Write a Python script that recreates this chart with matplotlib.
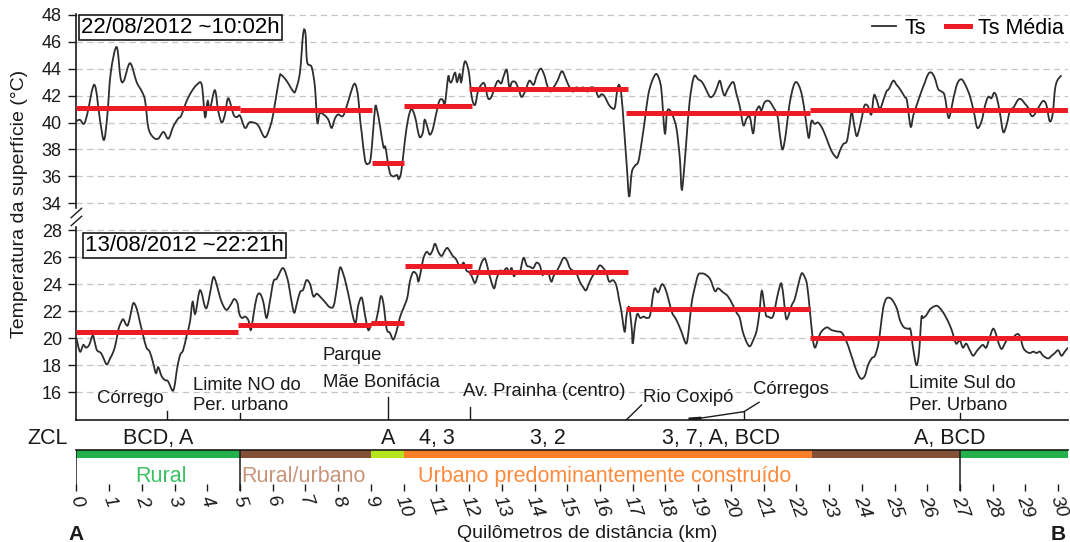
import matplotlib
matplotlib.use("Agg")
import matplotlib.pyplot as plt
from matplotlib.lines import Line2D
from matplotlib.path import Path
from matplotlib.patches import PathPatch

plt.rcParams['font.family'] = ['Liberation Sans', 'DejaVu Sans']

# ---------------------------------------------------------------
# Perfil de temperatura da superfície (Ts) ao longo do transecto A-B
# ---------------------------------------------------------------

# 22/08/2012 ~10:02h  (km, °C)
km_dia = [0.0, 0.11, 0.23, 0.33, 0.55, 0.72, 0.84, 0.94, 1.05, 1.23, 1.35, 1.45, 1.64, 1.84,
          2.0, 2.1, 2.2, 2.35, 2.5, 2.66, 2.81, 2.96, 3.11, 3.2, 3.37, 3.52, 3.68, 3.83, 3.93,
          4.01, 4.08, 4.23, 4.33, 4.44, 4.54, 4.64, 4.8, 4.9, 5.0, 5.15, 5.28, 5.4, 5.55, 5.76,
          5.92, 6.02, 6.2, 6.27, 6.42, 6.63, 6.7, 6.83, 6.93, 7.0, 7.05, 7.19, 7.29, 7.36, 7.44,
          7.6, 7.7, 7.8, 7.9, 8.0, 8.15, 8.31, 8.45, 8.53, 8.61, 8.67, 8.72, 8.82, 8.92, 9.0,
          9.12, 9.17, 9.28, 9.38, 9.44, 9.5, 9.58, 9.68, 9.8, 9.85, 9.93, 10.04, 10.14, 10.24,
          10.35, 10.45, 10.51, 10.59, 10.64, 10.72, 10.8, 10.89, 10.98, 11.09, 11.19, 11.26,
          11.36, 11.4, 11.46, 11.57, 11.63, 11.71, 11.76, 11.85, 11.92, 12.0, 12.08, 12.18,
          12.28, 12.41, 12.48, 12.58, 12.68, 12.78, 12.88, 12.98, 13.05, 13.15, 13.23, 13.31,
          13.41, 13.51, 13.6, 13.71, 13.84, 13.97, 14.07, 14.19, 14.3, 14.38, 14.48, 14.58,
          14.7, 14.83, 14.93, 15.03, 15.17, 15.27, 15.39, 15.49, 15.62, 15.72, 15.85, 15.95,
          16.05, 16.15, 16.25, 16.35, 16.45, 16.52, 16.58, 16.65, 16.73, 16.82, 16.89, 16.97,
          17.07, 17.17, 17.27, 17.37, 17.47, 17.58, 17.71, 17.81, 17.88, 17.98, 18.05, 18.14,
          18.24, 18.34, 18.44, 18.49, 18.54, 18.64, 18.74, 18.87, 19.0, 19.12, 19.25, 19.36,
          19.46, 19.56, 19.66, 19.74, 19.81, 19.91, 20.07, 20.17, 20.27, 20.38, 20.48, 20.58,
          20.68, 20.76, 20.86, 20.93, 21.03, 21.16, 21.28, 21.42, 21.5, 21.58, 21.68, 21.78,
          21.9, 22.0, 22.13, 22.23, 22.34, 22.39, 22.46, 22.56, 22.66, 22.76, 22.86, 22.97,
          23.07, 23.18, 23.25, 23.33, 23.43, 23.54, 23.62, 23.69, 23.76, 23.84, 23.92, 24.02,
          24.09, 24.19, 24.29, 24.37, 24.45, 24.55, 24.65, 24.75, 24.83, 24.96, 25.06, 25.16,
          25.31, 25.38, 25.49, 25.57, 25.65, 25.72, 25.82, 25.93, 26.03, 26.13, 26.23, 26.33,
          26.43, 26.53, 26.64, 26.71, 26.79, 26.92, 27.05, 27.18, 27.31, 27.43, 27.53, 27.66,
          27.76, 27.86, 27.96, 28.04, 28.12, 28.22, 28.32, 28.42, 28.53, 28.63, 28.78, 28.88,
          28.98, 29.08, 29.18, 29.28, 29.42, 29.54, 29.64, 29.74, 29.83, 29.9, 29.97, 30.1]
ts_dia = [40.1, 40.2, 39.9, 40.6, 42.8, 40.2, 38.7, 40.4, 43.7, 45.6, 43.3, 43.1, 44.4, 43.0,
          42.3, 41.6, 39.6, 38.9, 38.8, 39.3, 38.8, 39.7, 40.3, 40.5, 41.6, 42.3, 42.8, 42.8, 40.4,
          41.6, 41.0, 42.4, 40.9, 40.0, 40.6, 41.8, 40.6, 40.4, 40.5, 39.6, 40.0, 40.0, 39.8, 38.9,
          39.7, 40.7, 43.3, 43.5, 43.1, 42.3, 42.4, 43.7, 46.6, 46.6, 44.5, 44.1, 42.6, 40.0, 40.7,
          40.5, 40.2, 39.6, 40.3, 40.6, 40.5, 41.6, 42.7, 42.8, 41.9, 40.2, 39.2, 37.2, 36.95, 37.5,
          40.9, 41.1, 39.7, 38.2, 38.2, 37.3, 36.25, 36.0, 36.1, 35.8, 36.4, 38.7, 40.3, 41.0,
          40.4, 39.2, 38.9, 39.3, 40.2, 39.7, 39.1, 39.5, 40.5, 41.6, 41.7, 41.4,
          43.4, 43.1, 43.0, 43.7, 43.0, 43.6, 43.0, 44.4, 44.4, 43.6, 41.9, 41.3,
          42.4, 42.9, 42.8, 41.8, 41.9, 42.6, 43.1, 42.9, 43.4, 43.9, 42.6, 43.0,
          43.0, 42.5, 41.9, 42.3, 43.1, 42.8, 43.5, 44.0, 43.5, 42.8, 42.3, 42.6,
          43.1, 43.8, 43.4, 42.8, 42.3, 42.6, 42.5, 42.6, 42.3, 42.6, 42.5, 41.9,
          42.1, 41.9, 41.4, 41.1, 41.1, 42.3, 42.8, 42.1, 39.7, 36.7, 34.5, 36.3,
          36.8, 37.1, 38.5, 40.2, 42.0, 43.0, 43.6, 43.2, 42.3, 39.2, 40.8, 40.9,
          40.4, 39.5, 37.3, 35.1, 35.7, 38.7, 41.6, 43.4, 43.2, 43.0, 42.4, 41.9,
          42.0, 42.5, 43.1, 42.4, 42.0, 42.5, 43.0, 42.1, 41.2, 39.8, 40.3, 40.4,
          39.2, 40.7, 41.2, 40.9, 41.5, 41.6, 41.2, 40.5, 39.0, 38.0, 39.2, 41.2,
          42.6, 43.0, 42.4, 41.2, 39.3, 38.9, 40.1, 39.9, 40.0, 39.7, 39.2, 38.5,
          37.9, 37.5, 37.4, 37.9, 38.4, 38.6, 39.7, 40.8, 39.9, 39.0, 39.5, 40.6,
          41.3, 41.2, 40.6, 42.0, 41.7, 41.0, 41.6, 42.3, 42.5, 43.1, 42.8, 42.5,
          41.9, 41.6, 39.7, 40.5, 41.1, 41.6, 42.3, 43.0, 43.6, 43.7, 43.3, 42.5,
          42.3, 42.0, 40.4, 40.7, 41.7, 42.9, 43.2, 42.7, 41.9, 40.7, 39.6, 40.1,
          41.2, 41.9, 41.8, 42.2, 41.9, 40.7, 39.3, 39.8, 40.9, 41.1, 41.7, 41.7,
          41.4, 41.1, 40.5, 40.6, 41.2, 41.6, 41.3, 40.1, 40.6, 42.4, 43.1, 43.5]

# 13/08/2012 ~22:21h  (km, °C)
km_noite = [0.0, 0.11, 0.21, 0.29, 0.39, 0.5, 0.57, 0.63, 0.75, 0.83, 0.93, 1.03, 1.13, 1.21,
            1.28, 1.35, 1.43, 1.52, 1.58, 1.66, 1.74, 1.84, 1.94, 2.04, 2.14, 2.24, 2.34, 2.43,
            2.5, 2.6, 2.7, 2.8, 2.94, 3.01, 3.06, 3.16, 3.26, 3.37, 3.47, 3.55, 3.63, 3.75, 3.82,
            3.92, 3.99, 4.08, 4.18, 4.26, 4.37, 4.47, 4.59, 4.72, 4.82, 4.92, 4.98, 5.06, 5.16,
            5.26, 5.33, 5.41, 5.51, 5.61, 5.71, 5.81, 5.91, 6.02, 6.12, 6.22, 6.3, 6.37, 6.47,
            6.54, 6.65, 6.73, 6.83, 6.93, 7.03, 7.14, 7.24, 7.34, 7.44, 7.59, 7.74, 7.86, 7.95,
            8.05, 8.15, 8.25, 8.35, 8.46, 8.54, 8.61, 8.72, 8.82, 8.92, 9.02, 9.12, 9.22, 9.3,
            9.38, 9.48, 9.58, 9.68, 9.78, 9.88, 9.99, 10.11, 10.19, 10.29, 10.4, 10.45, 10.52,
            10.6, 10.7, 10.8, 10.88, 10.96, 11.06, 11.16, 11.26, 11.33, 11.4, 11.5, 11.59, 11.67,
            11.74, 11.82, 11.87, 11.92, 12.0, 12.08, 12.18, 12.28, 12.38, 12.48, 12.55, 12.63,
            12.76, 12.84, 12.94, 13.04, 13.15, 13.23, 13.3, 13.37, 13.45, 13.55, 13.66, 13.76,
            13.86, 13.96, 14.06, 14.16, 14.24, 14.31, 14.41, 14.51, 14.58, 14.66, 14.77, 14.88,
            14.98, 15.08, 15.18, 15.28, 15.38, 15.48, 15.57, 15.67, 15.77, 15.89, 15.99, 16.1,
            16.2, 16.28, 16.4, 16.5, 16.58, 16.66, 16.71, 16.76, 16.81, 16.89, 16.97, 17.0,
            17.07, 17.14, 17.23, 17.33, 17.43, 17.53, 17.62, 17.68, 17.78, 17.89, 17.99, 18.09,
            18.2, 18.3, 18.4, 18.5, 18.63, 18.7, 18.8, 18.9, 19.0, 19.1, 19.2, 19.36, 19.51,
            19.61, 19.76, 19.91, 20.07, 20.17, 20.27, 20.36, 20.48, 20.58, 20.68, 20.78, 20.86,
            20.94, 21.01, 21.07, 21.14, 21.24, 21.31, 21.4, 21.5, 21.55, 21.62, 21.68, 21.75,
            21.85, 21.95, 22.05, 22.16, 22.26, 22.33, 22.41, 22.5, 22.57, 22.67, 22.77, 22.93,
            23.08, 23.24, 23.39, 23.54, 23.64, 23.75, 23.85, 23.97, 24.09, 24.19, 24.3, 24.4,
            24.5, 24.57, 24.65, 24.74, 24.84, 24.94, 25.07, 25.17, 25.29, 25.42, 25.49, 25.57,
            25.67, 25.75, 25.82, 25.87, 25.97, 26.07, 26.17, 26.3, 26.43, 26.56, 26.68, 26.76,
            26.88, 26.99, 27.09, 27.19, 27.3, 27.4, 27.5, 27.6, 27.7, 27.8, 27.9, 28.01, 28.1,
            28.17, 28.27, 28.37, 28.47, 28.57, 28.68, 28.78, 28.85, 28.93, 29.03, 29.14, 29.24,
            29.34, 29.44, 29.54, 29.69, 29.8, 29.9, 30.0, 30.1, 30.2, 30.3]
ts_noite = [20.0, 19.0, 19.5, 19.3, 19.5, 20.2, 19.6, 19.1, 18.9, 18.5, 18.05, 18.5, 19.0, 19.7,
            20.6, 21.1, 21.4, 21.0, 21.0, 21.8, 22.6, 22.2, 21.2, 20.2, 19.3, 19.0, 18.2, 17.4,
            17.85, 17.2, 16.9, 16.8, 16.1, 16.6, 17.5, 18.7, 19.1, 20.2, 21.2, 22.7, 21.8, 23.4, 23.4,
            22.4, 22.3, 23.3, 24.5, 24.2, 23.2, 22.5, 22.1, 22.5, 22.9, 22.6, 21.8, 21.5, 21.6,
            21.3, 20.6, 21.7, 23.05, 23.3, 22.7, 21.5, 22.7, 24.2, 24.4, 24.9, 25.2, 25.0, 24.2,
            23.2, 21.9, 22.5, 23.4, 23.6, 24.3, 24.0, 23.1, 23.3, 23.1, 22.7, 22.3, 22.4, 23.6,
            25.2, 24.8, 23.9, 22.8, 21.5, 21.2, 22.4, 23.0, 21.7, 20.6, 21.1, 21.0, 22.0, 23.1,
            22.6, 20.7, 20.4, 19.9, 20.5, 21.5, 22.2, 23.0, 24.2, 24.9, 24.7, 24.2, 24.9,
            25.9, 26.4, 26.2, 26.5, 27.0, 26.4, 26.1, 26.5, 26.7, 26.5, 26.1, 25.9, 25.5,
            25.2, 25.6, 25.4, 25.0, 24.9, 24.6, 24.1, 24.8, 25.6, 25.9, 25.4, 24.6,
            23.7, 24.4, 25.0, 24.95, 25.2, 24.9, 25.2, 24.6, 24.95, 24.9, 25.95, 25.4,
            25.3, 25.2, 25.6, 25.4, 24.7, 24.9, 24.9, 24.2, 24.6, 24.9, 25.4, 25.95,
            25.8, 25.2, 25.0, 24.8, 24.2, 23.8, 23.55, 24.1, 24.6, 25.0, 25.4, 25.2,
            24.8, 24.2, 24.3, 23.9, 22.9, 21.9, 21.0, 20.5, 21.7, 22.3, 20.7, 19.6,
            21.0, 21.8, 21.5, 21.6, 21.5, 21.7, 23.2, 23.7, 23.4, 24.0, 23.7, 22.9,
            21.9, 21.5, 21.0, 20.4, 19.6, 20.4, 22.6, 23.8, 24.7, 24.8, 24.75, 24.4, 23.5,
            23.7, 23.4, 23.1, 22.4, 21.9, 21.5, 20.5, 19.7, 19.4, 19.85, 20.5, 21.7,
            23.5, 22.6, 21.7, 21.6, 21.5, 21.8, 22.9, 23.9, 24.0, 22.8, 21.5, 21.6,
            22.4, 22.9, 23.9, 24.8, 24.5, 23.9, 22.1, 20.0, 19.3, 20.0, 20.5, 20.8,
            20.6, 20.5, 20.4, 19.7, 19.0, 18.2, 17.5, 17.0, 17.2, 18.0, 18.5, 18.7,
            19.5, 20.7, 22.2, 22.9, 23.0, 22.8, 22.2, 21.3, 20.8, 20.7, 20.6, 19.2,
            18.0, 19.0, 21.5, 21.5, 21.7, 22.1, 22.3, 22.4, 22.1, 21.6, 21.0, 20.5,
            19.6, 19.85, 19.3, 19.6, 19.1, 18.7, 19.0, 19.3, 19.5, 19.3, 20.0, 20.7, 20.3,
            19.7, 19.2, 19.6, 20.0, 19.85, 20.2, 20.3, 20.0, 19.3, 19.0, 18.9, 19.0,
            18.9, 19.0, 18.7, 18.5, 18.7, 18.9, 19.1, 18.7, 19.0, 19.3]

# Ts média por trecho (início km, fim km, °C)
media_dia_ini = [0.0, 5.0, 9.03, 10.02, 12.0, 16.8, 22.43]
media_dia_fim = [5.0, 9.03, 10.02, 12.08, 16.86, 22.43, 30.3]
media_dia = [41.1, 40.9, 37.0, 41.2, 42.5, 40.7, 40.9]

media_noite_ini = [0.0, 4.95, 9.0, 10.04, 12.0, 16.8, 22.41]
media_noite_fim = [4.95, 9.0, 10.0, 12.08, 16.86, 22.41, 30.3]
media_noite = [20.45, 21.0, 21.15, 25.35, 24.9, 22.2, 20.0]

# Zonas climáticas locais (ZCL) ao longo do percurso
zcl_rotulos = ["BCD, A", "A", "4, 3", "3, 2", "3, 7, A, BCD", "A, BCD"]
zcl_km = [2.5, 9.53, 11.0, 14.4, 19.7, 26.7]

# Uso do solo
zona_ini = [0.0, 5.0, 9.0, 10.0, 22.47, 27.0]
zona_fim = [5.0, 9.0, 10.0, 22.47, 27.0, 30.3]
zona_cor = ["#22b14c", "#845036", "#b5e61d", "#ff7f27", "#845036", "#22b14c"]
zona_nomes = ["Rural", "Rural/urbano", "Urbano predominantemente construído"]
zona_nomes_km = [2.6, 6.93, 16.15]
zona_nomes_cor = ["#3cc063", "#c8957a", "#ff8a3d"]
limites_zona = [0, 5, 27]

# Pontos de referência
ref_textos = ["Córrego", "Limite NO do", "Per. urbano", "Parque", "Mãe Bonifácia",
              "Av. Prainha (centro)", "Rio Coxipó", "Córregos", "Limite Sul do", "Per. Urbano"]

km_ticks = list(range(0, 31))
yt_sup = [34, 36, 38, 40, 42, 44, 46, 48]
yt_inf = [16, 18, 20, 22, 24, 26, 28]
GAP = 4  # deslocamento do trecho superior (eixo quebrado entre 28 e 34)

# ---------------------------------------------------------------
W, H = 1070, 542
fig = plt.figure(figsize=(W / 100, H / 100), dpi=100)


def fx(px):
    return px / W


def fy(py):
    return 1 - py / H


def curva_suave(xs, ys):
    """Caminho de Bézier cúbico que passa pelos pontos (linha suavizada)."""
    n = len(xs)
    verts = [(xs[0], ys[0])]
    codes = [Path.MOVETO]
    for i in range(n - 1):
        x0, y0 = xs[max(i - 1, 0)], ys[max(i - 1, 0)]
        x1, y1 = xs[i], ys[i]
        x2, y2 = xs[i + 1], ys[i + 1]
        x3, y3 = xs[min(i + 2, n - 1)], ys[min(i + 2, n - 1)]
        c1 = (x1 + (x2 - x0) / 6.0, y1 + (y2 - y0) / 6.0)
        c2 = (x2 - (x3 - x1) / 6.0, y2 - (y3 - y1) / 6.0)
        verts += [c1, c2, (x2, y2)]
        codes += [Path.CURVE4] * 3
    return Path(verts, codes)


X0, X1 = 76.4, 1068.0
XMAX = 30.3
Y_TOP_PX, Y_BOT_PX = 14.0, 420.0
YMIN, YMAX = 13.93, 44.05

ax = fig.add_axes([fx(X0), fy(Y_BOT_PX), (X1 - X0) / W, (Y_BOT_PX - Y_TOP_PX) / H])
ax.set_xlim(0, XMAX)
ax.set_ylim(YMIN, YMAX)

ypos = yt_inf + [v - GAP for v in yt_sup]
ax.set_yticks(ypos)
ax.set_yticklabels([str(v) for v in yt_inf + yt_sup])
ax.tick_params(axis='y', direction='out', length=5.5, width=1.0, pad=5, labelsize=13,
               colors='#1a1a1a')
ax.tick_params(axis='x', bottom=False, labelbottom=False)
ax.yaxis.grid(True, color='#c4c4c4', lw=0.9, ls=(0, (5, 3.5)))
ax.set_axisbelow(True)
for s in ('top', 'right', 'left'):
    ax.spines[s].set_visible(False)
ax.spines['bottom'].set_linewidth(1.2)
ax.spines['bottom'].set_color('#1a1a1a')


# eixo vertical com quebra
def v_of(py):
    return 44 - (py - 14.7) / 13.48


ax.plot([0, 0], [v_of(208), YMAX], color='#1a1a1a', lw=1.2, clip_on=False)
ax.plot([0, 0], [YMIN, v_of(227)], color='#1a1a1a', lw=1.2, clip_on=False)
for y0 in (v_of(221), v_of(213)):
    ax.plot([-0.16, 0.16], [y0 - 0.35, y0 + 0.35], color='#1a1a1a', lw=1.0, clip_on=False)

# séries
ax.add_patch(PathPatch(curva_suave(km_dia, [v - GAP for v in ts_dia]), fill=False,
                       edgecolor='#2e2e2e', lw=1.3, zorder=3))
ax.add_patch(PathPatch(curva_suave(km_noite, ts_noite), fill=False,
                       edgecolor='#2e2e2e', lw=1.3, zorder=3))
ax.hlines([v - GAP for v in media_dia], media_dia_ini, media_dia_fim,
          color='#ed1c24', lw=3.6, zorder=4)
ax.hlines(media_noite, media_noite_ini, media_noite_fim,
          color='#ed1c24', lw=3.6, zorder=4)

# caixas de data
box = dict(facecolor='white', edgecolor='#1a1a1a', boxstyle='square,pad=0.1', lw=1.2)
ax.text(0.15, v_of(16.8), "22/08/2012 ~10:02h", fontsize=16, va='top', ha='left',
        bbox=box, zorder=6)
ax.text(0.26, v_of(235), "13/08/2012 ~22:21h", fontsize=16, va='top', ha='left',
        bbox=box, zorder=6)

# pontos de referência
tc = '#1a1a1a'
fs_ref = 13.3
ref_pos = [(0.62, 403.3), (3.56, 390), (3.56, 410), (7.53, 360), (7.53, 386.7),
           (11.82, 396), (17.3, 401.6), (20.68, 394.4), (25.45, 388.3), (25.45, 410)]
for t, (xk, py) in zip(ref_textos, ref_pos):
    ax.text(xk, v_of(py), t, fontsize=fs_ref, ha='left', va='baseline', color=tc)

marcas = [(2.77, 410.7), (5.0, 412.7), (9.53, 396.7), (12.03, 406.7), (20.4, 411.7),
          (27.0, 412.7)]
for xk, py in marcas:
    ax.plot([xk, xk], [YMIN, v_of(py)], color=tc, lw=1.0)
# guias
ax.plot([16.8, 17.27], [YMIN, v_of(405)], color=tc, lw=1.0)
ax.plot([18.75, 19.05, 20.4], [v_of(419), v_of(418.3), v_of(411.7)], color=tc, lw=1.0)
ax.plot([18.75, 19.05], [v_of(419), v_of(418.3)], color=tc, lw=2.2)
ax.plot([20.4, 20.86], [v_of(411.7), v_of(402.3)], color=tc, lw=1.0)

# legenda
h1 = Line2D([], [], color='#2e2e2e', lw=1.3)
h2 = Line2D([], [], color='#ed1c24', lw=3.6)
fig.legend([h1, h2], ["Ts", "Ts Média"], loc='center right',
           bbox_to_anchor=(fx(1064), fy(28)), bbox_transform=fig.transFigure,
           ncol=2, frameon=False, fontsize=15.5, handlelength=1.12, handletextpad=0.37,
           columnspacing=0.95, borderpad=0, borderaxespad=0)

# linha ZCL
ax_z = fig.add_axes([fx(X0), fy(449.6), (X1 - X0) / W, 29.6 / H])
ax_z.set_xlim(0, XMAX)
ax_z.set_ylim(0, 1)
ax_z.axis('off')
yb = 1 - (444.4 - 420) / 29.6
for t, xk in zip(zcl_rotulos, zcl_km):
    ax_z.text(xk, yb, t, fontsize=15.5, ha='center', va='baseline', color=tc)
ax_z.text(-0.87, yb, "ZCL", fontsize=15.5, ha='center', va='baseline', color=tc,
          clip_on=False)

# faixa de uso do solo e eixo de distância
ax_b = fig.add_axes([fx(X0), fy(491), (X1 - X0) / W, (491 - 449.6) / H])
ax_b.set_xlim(0, XMAX)
ax_b.set_ylim(0, 1)
for s in ('left', 'right', 'bottom'):
    ax_b.spines[s].set_visible(False)
ax_b.spines['top'].set_linewidth(1.2)
ax_b.spines['top'].set_color(tc)
ax_b.barh(0.89, [f - i for i, f in zip(zona_ini, zona_fim)], left=zona_ini, height=0.2,
          color=zona_cor, zorder=2)
ax_b.vlines(limites_zona, 0, 1, color=tc, lw=1.1, zorder=3)
yz = 1 - (481.6 - 449.6) / 41.4
for t, xk, c in zip(zona_nomes, zona_nomes_km, zona_nomes_cor):
    ax_b.text(xk, yz, t, fontsize=15.5, ha='center', va='baseline', color=c)
ax_b.set_yticks([])
ax_b.set_xticks(km_ticks)
ax_b.set_xticklabels([str(k) for k in km_ticks], rotation=-70, fontstyle='italic',
                     fontsize=14, ha='center', va='top')
ax_b.tick_params(axis='x', direction='in', length=5, width=1.0, pad=2, colors=tc)

fig.text(fx(76.5), fy(540), "A", fontsize=15, fontweight='bold', ha='center', va='baseline',
         color=tc)
fig.text(fx(1058), fy(540), "B", fontsize=15, fontweight='bold', ha='center', va='baseline',
         color=tc)
fig.text(fx(587), fy(538), "Quilômetros de distância (km)", fontsize=14, ha='center',
         va='baseline', color=tc)
fig.text(fx(20), fy(204), "Temperatura da superfície (°C)", fontsize=14, rotation=90,
         ha='center', va='center', color=tc)

fig.savefig("out.png", dpi=100)
